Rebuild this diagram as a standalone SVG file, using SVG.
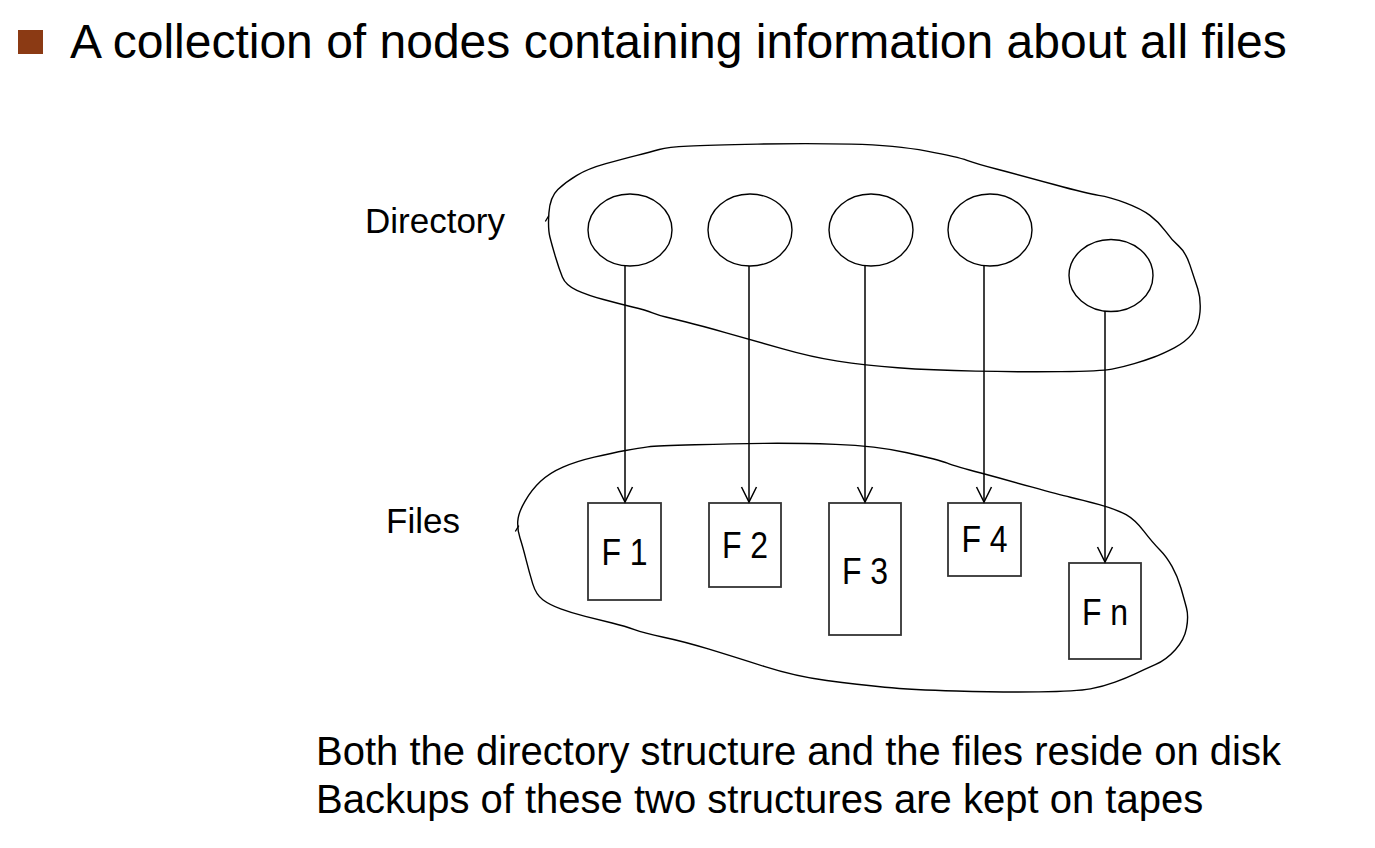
<svg xmlns="http://www.w3.org/2000/svg" width="1375" height="848" viewBox="0 0 1375 848">
<style>
.t{font-family:"Liberation Sans",Arial,sans-serif;fill:#000}
.fl{font-family:"Liberation Sans",Arial,sans-serif;fill:#000;font-size:32px;text-anchor:middle}
.blob{fill:none;stroke:#000;stroke-width:1.4;stroke-linejoin:round;stroke-linecap:round}
.node{fill:#fff;stroke:#000;stroke-width:1.4}
.box{fill:#fff;stroke:#333;stroke-width:1.8}
.conn{stroke:#000;stroke-width:1.5;fill:none}
</style>
<defs>
<marker id="arr" markerUnits="userSpaceOnUse" markerWidth="20" markerHeight="20" viewBox="-10 -18 20 20" refX="0" refY="0" orient="auto-start-reverse" overflow="visible">
<path d="M-15,-7.5 L0,0 L-15,7.5" fill="none" stroke="#000" stroke-width="1.5"/>
</marker>
</defs>
<rect width="1375" height="848" fill="#fff"/>
<g id="title">
<rect x="18" y="30" width="25" height="24" fill="#8B3A14"/>
<text class="t" x="70" y="58" font-size="48">A collection of nodes containing information about all files</text>
</g>
<g id="directory-region">
<path class="blob" d="M549.9,237 Q547.8,228.7 548.9,212.85 Q550,197 557.85,189.5 Q565.7,182 576.85,175.35 Q588,168.7 605.85,163.7 Q623.7,158.7 637.05,155.35 Q650.4,152 659.2,149.5 Q668,147 688.2,146.15 Q708.4,145.3 757.45,144.15 Q806.5,143 851.1,144.15 Q895.7,145.3 926.85,151.15 Q958,157 967,160.35 Q976,163.7 998.3,169.5 Q1020.6,175.3 1054.05,184.5 Q1087.5,193.7 1098.65,195.35 Q1109.8,197 1125.4,202.85 Q1141,208.7 1149.95,215.35 Q1158.9,222 1165.45,231.15 Q1172,240.3 1178.8,246.15 Q1185.6,252 1190.05,265.35 Q1194.5,278.7 1197.75,288.7 Q1201,298.7 1200,312 Q1199,325.3 1192.3,333.65 Q1185.6,342 1174.3,347.85 Q1163,353.7 1154.25,357 Q1145.5,360.3 1134.25,363.65 Q1123,367 1112,369.15 Q1101,371.3 1060.8,371.65 Q1020.6,372 975.8,371.15 Q931,370.3 897.75,367.8 Q864.5,365.3 837.75,361.15 Q811,357 782,348.65 Q753,340.3 726.25,332.8 Q699.5,325.3 686.1,322 Q672.7,318.7 665.85,317 Q659,315.3 652.5,312.8 Q646,310.3 632.5,307 Q619,303.7 603.5,299.5 Q588,295.3 576.85,290.3 Q565.7,285.3 562.35,277 Q559,268.7 555.5,257 Q552,245.3 549.9,237 Z"/>
<path class="blob" d="M548.6,216 L545.6,221"/>
<text class="t" x="365" y="233" font-size="35">Directory</text>
</g>
<g id="files-region">
<path class="blob" d="M520,538.05 Q517.3,529.7 517.75,521.35 Q518.2,513 524.95,501.35 Q531.7,489.7 540.6,481.35 Q549.5,473 562.95,467.15 Q576.4,461.3 594.25,457.15 Q612.1,453 625.55,450.5 Q639,448 647.9,446.85 Q656.8,445.7 694.8,444.7 Q732.8,443.7 764.1,443.35 Q795.4,443 835.6,444.35 Q875.8,445.7 907.1,452.7 Q938.4,459.7 947.35,463.05 Q956.3,466.4 980.9,473.05 Q1005.5,479.7 1032.3,487.2 Q1059.1,494.7 1070.3,497.2 Q1081.5,499.7 1099.35,504.7 Q1117.2,509.7 1126.1,514.7 Q1135,519.7 1144,531.35 Q1153,543 1159.7,549.7 Q1166.4,556.4 1172,566.4 Q1177.6,576.4 1180.95,588.05 Q1184.3,599.7 1186.5,608.05 Q1188.7,616.4 1186.5,628.05 Q1184.3,639.7 1175.35,649.7 Q1166.4,659.7 1155.2,664.7 Q1144,669.7 1135.1,673.85 Q1126.2,678 1115,682.2 Q1103.8,686.4 1090.4,688.9 Q1077,691.4 1039,691.9 Q1001,692.4 956.3,691.05 Q911.6,689.7 884.8,687.2 Q858,684.7 826.7,680.55 Q795.4,676.4 764.1,666.4 Q732.8,656.4 708.2,648.9 Q683.6,641.4 663.5,637.2 Q643.4,633 634.45,629.7 Q625.5,626.4 612.1,623.05 Q598.7,619.7 585.3,616.35 Q571.9,613 560.7,608.85 Q549.5,604.7 542.8,599.7 Q536.1,594.7 532.75,583.85 Q529.4,573 526.05,559.7 Q522.7,546.4 520,538.05 Z"/>
<path class="blob" d="M518.6,526 L515.6,531"/>
<text class="t" x="386" y="533" font-size="35">Files</text>
</g>
<g id="d1"><ellipse class="node" cx="630" cy="230" rx="42" ry="36"/></g>
<g id="d2"><ellipse class="node" cx="750" cy="230" rx="42" ry="36"/></g>
<g id="d3"><ellipse class="node" cx="871" cy="230" rx="42" ry="36"/></g>
<g id="d4"><ellipse class="node" cx="990" cy="230" rx="42" ry="36"/></g>
<g id="d5"><ellipse class="node" cx="1111" cy="275.5" rx="42" ry="36"/></g>
<g id="f1"><rect class="box" x="588" y="503" width="73" height="97"/><text class="fl" transform="translate(624.5,565) scale(1,1.15)">F 1</text></g>
<g id="f2"><rect class="box" x="709" y="503" width="72" height="84"/><text class="fl" transform="translate(745,558) scale(1,1.15)">F 2</text></g>
<g id="f3"><rect class="box" x="829" y="503" width="72" height="132"/><text class="fl" transform="translate(865,584) scale(1,1.15)">F 3</text></g>
<g id="f4"><rect class="box" x="948" y="503" width="73" height="73"/><text class="fl" transform="translate(984.5,552) scale(1,1.15)">F 4</text></g>
<g id="fn"><rect class="box" x="1069" y="563" width="72" height="96"/><text class="fl" transform="translate(1105,625) scale(1,1.15)">F n</text></g>
<g id="connectors">
<line class="conn" x1="625" y1="266" x2="625" y2="502" marker-end="url(#arr)"/>
<line class="conn" x1="749" y1="266" x2="749" y2="502" marker-end="url(#arr)"/>
<line class="conn" x1="865" y1="266" x2="865" y2="502" marker-end="url(#arr)"/>
<line class="conn" x1="984" y1="266" x2="984" y2="502" marker-end="url(#arr)"/>
<line class="conn" x1="1105" y1="311" x2="1105" y2="562" marker-end="url(#arr)"/>
</g>
<g id="caption">
<text class="t" x="316" y="765" font-size="40">Both the directory structure and the files reside on disk</text>
<text class="t" x="316" y="813" font-size="40">Backups of these two structures are kept on tapes</text>
</g>
</svg>
